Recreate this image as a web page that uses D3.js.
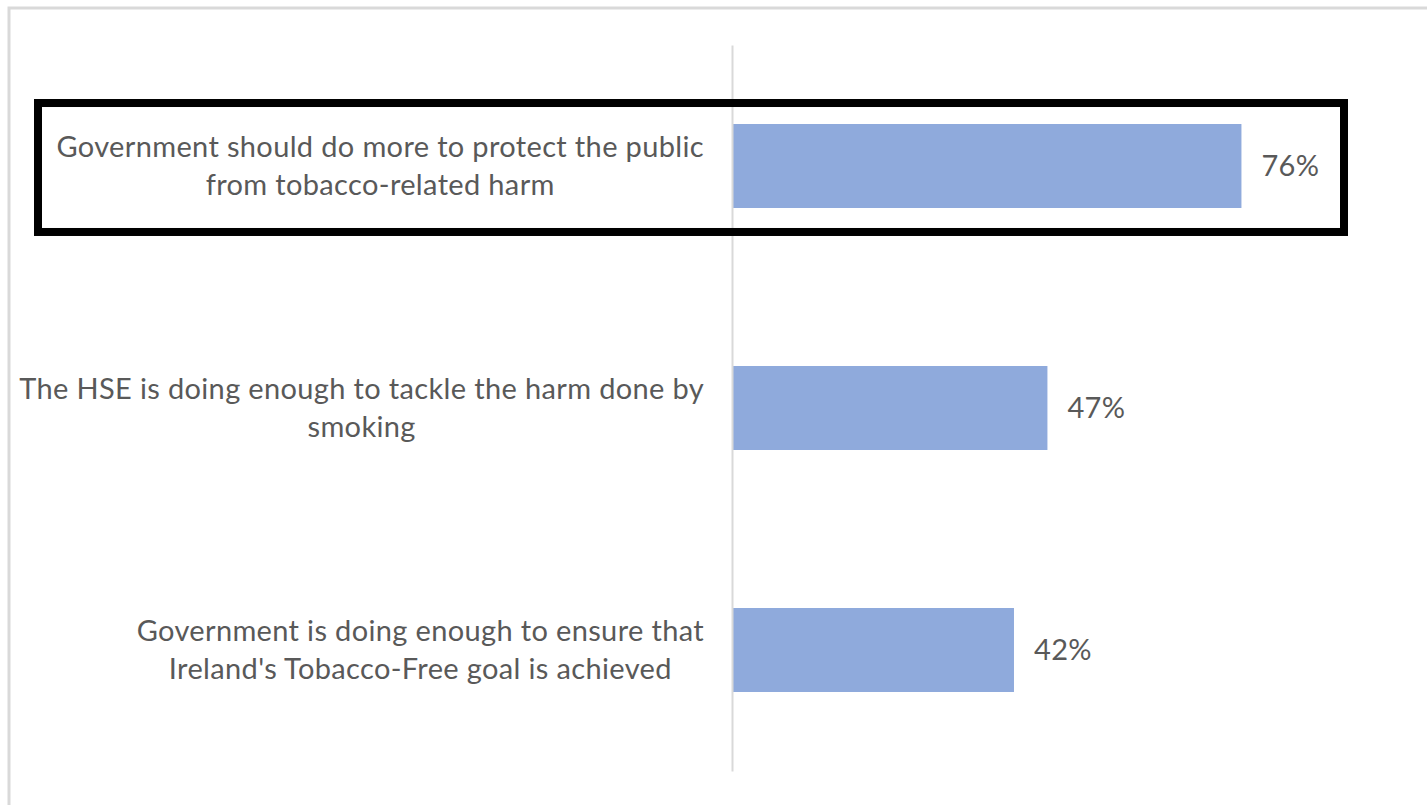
<!DOCTYPE html>
<html>
<head>
<meta charset="utf-8">
<script src="https://cdn.jsdelivr.net/npm/d3@7"></script>
<style>
  html, body { margin: 0; padding: 0; background: #ffffff; }
  svg { display: block; }
</style>
</head>
<body>
<svg id="chart" width="1427" height="805"></svg>
<script>
// Survey statements (top to bottom) and the share agreeing with each
const categories = [
  "Government should do more to protect the public from tobacco-related harm",
  "The HSE is doing enough to tackle the harm done by smoking",
  "Government is doing enough to ensure that Ireland's Tobacco-Free goal is achieved"
];
const categoryLines = [
  ["Government should do more to protect the public", "from tobacco-related harm"],
  ["The HSE is doing enough to tackle the harm done by", "smoking"],
  ["Government is doing enough to ensure that", "Ireland's Tobacco-Free goal is achieved"]
];
const values = [76, 47, 42];
const highlighted = [categories[0]];

const svg = d3.select("#chart");
const W = 1427, H = 805;

const fontFamily = "Lato, 'Open Sans', sans-serif";
const fontSize = 29;
const letterSpacing = 0.35;
const textColor = "#595959";
const barColor = "#8FAADC";

// chart frame
svg.append("rect")
  .attr("x", 9).attr("y", 8)
  .attr("width", W + 20).attr("height", H + 20)
  .attr("fill", "#ffffff")
  .attr("stroke", "#d9d9d9")
  .attr("stroke-width", 3);

const x = d3.scaleLinear().domain([0, 100]).range([733, 1402]);
const y = d3.scaleBand()
  .domain(categories)
  .range([45, 771])
  .paddingInner(0.653)
  .paddingOuter(0.3265);

// bars
svg.append("g").selectAll("rect")
  .data(categories)
  .join("rect")
  .attr("x", x(0))
  .attr("y", d => y(d))
  .attr("width", (d, i) => x(values[i]) - x(0))
  .attr("height", y.bandwidth())
  .attr("fill", barColor);

// category axis (line only)
const axis = svg.append("g")
  .attr("transform", `translate(${x(0) - 1},0)`)
  .call(d3.axisLeft(y).tickSize(0).tickSizeOuter(0).tickFormat(""));
axis.select(".domain").attr("stroke", "#d9d9d9").attr("stroke-width", 2);

// value labels
svg.append("g").selectAll("text")
  .data(categories)
  .join("text")
  .attr("x", (d, i) => x(values[i]) + 20)
  .attr("y", d => y(d) + y.bandwidth() / 2)
  .attr("dy", "0.35em")
  .attr("font-family", fontFamily)
  .attr("font-size", fontSize)
  .attr("letter-spacing", letterSpacing)
  .attr("fill", textColor)
  .text((d, i) => values[i] + "%");

// category labels: lines centred within a block whose right edge sits left of the axis
const labelRight = 704;
const lineH = 38;
categories.forEach((c, i) => {
  const g = svg.append("g");
  const lines = categoryLines[i];
  const cy = y(c) + y.bandwidth() / 2;
  const texts = g.selectAll("text")
    .data(lines)
    .join("text")
    .attr("y", (d, j) => cy + (j - (lines.length - 1) / 2) * lineH)
    .attr("dy", "0.35em")
    .attr("text-anchor", "middle")
    .attr("font-family", fontFamily)
    .attr("font-size", fontSize)
    .attr("letter-spacing", letterSpacing)
    .attr("fill", textColor)
    .text(d => d);
  let maxW = 0;
  texts.each(function () { maxW = Math.max(maxW, this.getComputedTextLength()); });
  texts.attr("x", labelRight - maxW / 2);
});

// highlight box around the first statement
highlighted.forEach(c => {
  svg.append("rect")
    .attr("x", 38)
    .attr("y", y(c) - 21)
    .attr("width", 1306)
    .attr("height", y.bandwidth() + 45)
    .attr("fill", "none")
    .attr("stroke", "#000000")
    .attr("stroke-width", 8);
});
</script>
</body>
</html>
